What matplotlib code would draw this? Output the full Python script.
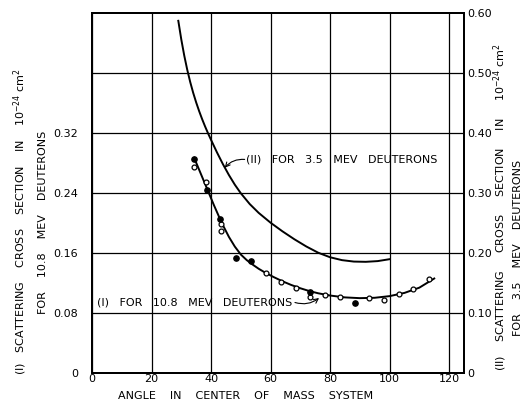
import matplotlib
matplotlib.use("Agg")
import matplotlib.pyplot as plt
import numpy as np

plt.rcParams['font.family'] = ['DejaVu Sans']
plt.rcParams['font.size'] = 8

# curve (I): 10.8 MeV deuterons, left axis units (1e-24 cm^2)
ang_I = [34.3, 35, 36, 37, 38, 39, 40, 41, 42, 43, 44, 46, 48, 50, 52, 54, 56, 58, 61, 64,
         67, 70, 73, 76, 80, 85, 90, 95, 100, 105, 110, 115]
sig_I = [0.287, 0.2805, 0.271, 0.2615, 0.252, 0.2425, 0.233, 0.2235, 0.2145, 0.2055, 0.197,
         0.1815, 0.1685, 0.158, 0.1505, 0.1445, 0.139, 0.1343, 0.128, 0.1223, 0.1173, 0.113,
         0.1093, 0.1063, 0.1033, 0.1008, 0.0998, 0.1003, 0.1025, 0.1068, 0.1138, 0.126]

# measured points, open and filled circles
open_ang = [34.3, 38.4, 43.4, 43.4, 58.4, 63.5, 68.4, 73.2, 78.4, 83.4, 93.2, 98.2, 103.2, 107.9, 113.2]
open_sig = [0.275, 0.255, 0.199, 0.190, 0.133, 0.121, 0.114, 0.101, 0.104, 0.102, 0.100, 0.098,
            0.105, 0.112, 0.125]
fill_ang = [34.3, 38.8, 42.9, 48.4, 53.3, 73.2, 88.4]
fill_sig = [0.285, 0.244, 0.206, 0.154, 0.150, 0.108, 0.094]

# curve (II): 3.5 MeV deuterons, right axis units
ang_II = [29, 30, 31, 32, 33, 34, 35, 36, 37, 38, 39, 40, 42, 44, 46, 48, 50, 53, 56, 60,
          64, 68, 72, 76, 80, 84, 88, 92, 96, 100]
sig_II = [0.587, 0.556, 0.529, 0.5055, 0.485, 0.467, 0.451, 0.4365, 0.4232, 0.4109, 0.3994,
          0.3886, 0.3676, 0.348, 0.330, 0.3138, 0.2996, 0.2816, 0.2669, 0.2505, 0.2361, 0.2229,
          0.2109, 0.2005, 0.1929, 0.1881, 0.1857, 0.1853, 0.1865, 0.1897]

left_ticks = [0, 0.08, 0.16, 0.24, 0.32, 0.40]
left_labels = ["0", "0.08", "0.16", "0.24", "0.32", ""]
right_ticks = [0, 0.1, 0.2, 0.3, 0.4, 0.5, 0.6]
right_labels = ["0", "0.10", "0.20", "0.30", "0.40", "0.50", "0.60"]
x_ticks = [0, 20, 40, 60, 80, 100, 120]

fig = plt.figure(figsize=(5.26, 4.08), dpi=100)
ax = fig.add_axes([92/526, 35/408, 372/526, 360/408])
ax.set_xlim(0, 125)
ax.set_ylim(0, 0.48)
ax.set_xticks(x_ticks)
ax.set_yticks(left_ticks)
ax.set_yticklabels(left_labels)
ax.grid(True, color='black', lw=0.9)
ax.tick_params(axis='y', length=0, pad=10, labelsize=8)
ax.tick_params(axis='x', length=0, pad=1, labelsize=8)
for s in ax.spines.values():
    s.set_linewidth(1.4)

ax.plot(ang_I, sig_I, color='black', lw=1.4)
ax.plot(open_ang, open_sig, 'o', ms=3.5, mfc='white', mec='black', mew=0.9)
ax.plot(fill_ang, fill_sig, 'o', ms=3.8, color='black')

ax2 = ax.twinx()
ax2.set_ylim(0, 0.6)
ax2.set_yticks(right_ticks)
ax2.set_yticklabels(right_labels)
ax2.tick_params(length=0, pad=2, labelsize=8)
ax2.plot(ang_II, sig_II, color='black', lw=1.4)
for s in ax2.spines.values():
    s.set_linewidth(1.4)

ax2.text(51.8, 0.355, "(II)   FOR   3.5   MEV   DEUTERONS", va='center', ha='left', fontsize=8)
ax2.annotate("", xy=(44.6, 0.342), xytext=(51.3, 0.356),
             arrowprops=dict(arrowstyle='->', color='black', lw=0.8,
                             connectionstyle='arc3,rad=0.25', shrinkA=0, shrinkB=0))
ax.text(67.3, 0.094, "(I)   FOR   10.8   MEV   DEUTERONS", va='center', ha='right', fontsize=8)
ax.annotate("", xy=(76.3, 0.100), xytext=(68.2, 0.094),
            arrowprops=dict(arrowstyle='->', color='black', lw=0.8,
                            connectionstyle='arc3,rad=0.25', shrinkA=0, shrinkB=0))

fig.text(246/526, 1 - 396/408, "ANGLE    IN    CENTER    OF    MASS    SYSTEM",
         ha='center', va='center', fontsize=8)
fig.text(20/526, 1 - 222/408, "(I)   SCATTERING    CROSS    SECTION    IN    10$^{-24}$ cm$^{2}$",
         rotation=90, ha='center', va='center', fontsize=8)
fig.text(43/526, 1 - 222/408, "FOR    10.8    MEV    DEUTERONS",
         rotation=90, ha='center', va='center', fontsize=8)
fig.text(500/526, 1 - 207/408, "(II)    SCATTERING     CROSS     SECTION     IN     10$^{-24}$ cm$^{2}$",
         rotation=90, ha='center', va='center', fontsize=8)
fig.text(518/526, 1 - 248/408, "FOR    3.5    MEV    DEUTERONS",
         rotation=90, ha='center', va='center', fontsize=8)

fig.savefig("out.png", dpi=100)
